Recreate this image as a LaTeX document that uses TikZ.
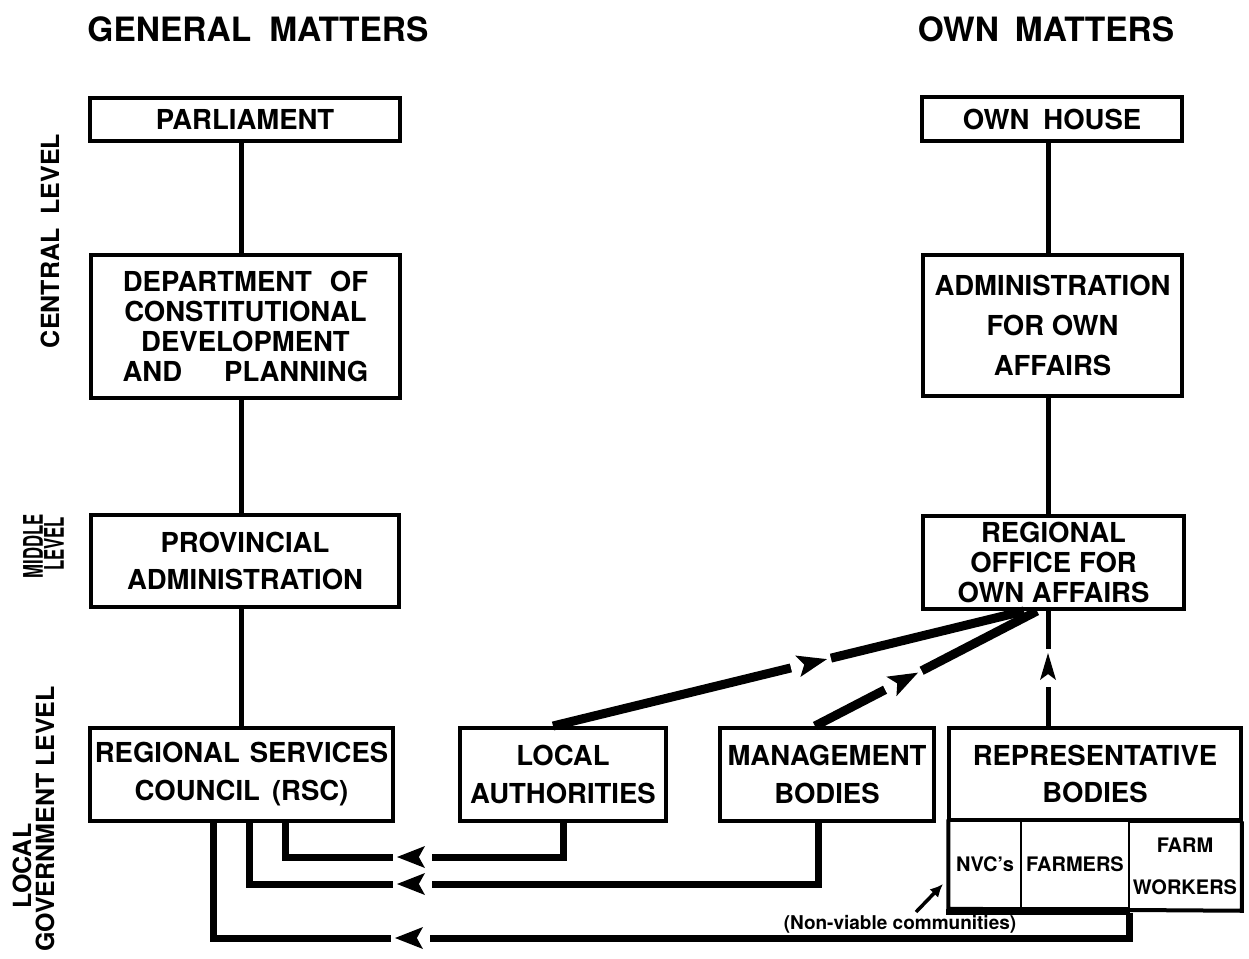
\documentclass[tikz,border=0pt]{standalone}
\usepackage{fontspec}
\setmainfont{TeX Gyre Heros}
\usetikzlibrary{calc,arrows.meta,decorations.markings}

\newcommand\orgBoxFont{\fontsize{27.5}{30}\selectfont\bfseries}
\newcommand\orgCellFont{\fontsize{20}{22}\selectfont\bfseries}
\newcommand\orgHeadFont{\fontsize{33.5}{35}\selectfont\bfseries}
\newcommand\orgSideFont{\fontsize{25}{27}\selectfont\bfseries}
\newcommand\orgMidFont{\fontsize{27}{29}\selectfont\bfseries}
\newcommand\orgNoteFont{\fontsize{19}{21}\selectfont\bfseries}

\tikzset{
  box/.style={draw, line width=4pt, inner sep=0pt, align=center, font=\orgBoxFont},
  cell/.style={draw, line width=1.5pt, inner sep=0pt, align=center, font=\orgCellFont},
  side/.style={inner sep=0pt, font=\orgSideFont, rotate=90},
  spine/.style={line width=5pt},
  feed/.style={line width=7pt},
  diag/.style={line width=9pt},
  % an arrowhead set into a gap of the line, tip at distance #1 from the start
  midhead/.style n args={4}{postaction={decorate},
    decoration={markings, mark=at position #1 with {
      \fill[white] ({-(#2)-7},{-(#4)}) rectangle (4,{#4});
      \fill (0,0) -- ({-(#2)},{#3}) -- ({-0.78*(#2)},0) -- ({-(#2)},{-(#3)}) -- cycle;}}},
}

\begin{document}
\begin{tikzpicture}[x=1pt,y=-1pt]
\fill[white] (0,0) rectangle (1249,958);
\useasboundingbox (0,0) rectangle (1249,958);

% column headings
\node[font=\orgHeadFont] (genhd) at (258,29) {GENERAL\hspace{18pt}MATTERS};
\node[font=\orgHeadFont] (ownhd) at (1046,29) {OWN\hspace{16pt}MATTERS};

% level labels
\node[side] (lvcentral) at (50,241) {CENTRAL\hspace{14pt}LEVEL};
\node[side, font=\orgMidFont] (lvmidA) at (33,546) {\scalebox{0.62}[1]{MIDDLE}};
\node[side, font=\orgMidFont] (lvmidB) at (54,544) {\scalebox{0.62}[1]{LEVEL}};
\node[side] (lvlocA) at (22,866) {LOCAL};
\node[side] (lvlocB) at (45,819) {GOVERNMENT LEVEL};

% general matters column
\node[box, minimum width=310pt, minimum height=43pt] (parl) at (245,119.5) {PARLIAMENT};
\node[box, minimum width=309pt, minimum height=143pt] (dept) at (245.5,326.5)
  {DEPARTMENT\hspace{18pt}OF\\CONSTITUTIONAL\\DEVELOPMENT\\AND\hspace{42pt}PLANNING};
\node[box, minimum width=308pt, minimum height=92pt] (prov) at (245,561)
  {PROVINCIAL\\[7pt]ADMINISTRATION};
\node[box, minimum width=303pt, minimum height=93pt] (rsc) at (241.5,774.5)
  {REGIONAL\hspace{10pt}SERVICES\\[8pt]COUNCIL\hspace{12pt}(RSC)};

% own matters column
\node[box, minimum width=260pt, minimum height=44pt] (house) at (1052,119) {OWN\hspace{14pt}HOUSE};
\node[box, minimum width=259pt, minimum height=141pt] (admin) at (1052.5,325.5)
  {ADMINISTRATION\\[10pt]FOR OWN\\[10pt]AFFAIRS};
\node[box, minimum width=261pt, minimum height=93pt] (regoff) at (1053.5,562.5)
  {REGIONAL\\OFFICE\hspace{8pt}FOR\\OWN AFFAIRS};

% local bodies
\node[box, minimum width=206pt, minimum height=93pt] (la) at (563,774.5) {LOCAL\\[8pt]AUTHORITIES};
\node[box, minimum width=214pt, minimum height=93pt] (mgmt) at (827,774.5) {MANAGEMENT\\[8pt]BODIES};
\node[box, minimum width=292pt, minimum height=92pt] (rep) at (1095,774) {REPRESENTATIVE\\[7pt]BODIES};
\node[cell, minimum width=72pt, minimum height=88pt] (nvc) at (985,864) {NVC's};
\node[cell, minimum width=108pt, minimum height=88pt] (farmers) at (1075,864) {FARMERS};
\node[cell, minimum width=112pt, minimum height=88pt] (workers) at (1185,866) {FARM\\[20pt]WORKERS};
\draw[line width=4pt] (nvc.north west) -- (nvc.south west) -- (workers.south east) -- (workers.north east);
\draw[line width=6pt] ($(nvc.south west)+(-2,3)$) -- ($(farmers.south east)+(0,3)$);

% note on the NVC's
\node[font=\orgNoteFont] (nvnote) at (900,924) {(Non-viable communities)};
\coordinate (nvtail) at (916,912);
\coordinate (nvtip) at (943,884);
\draw[line width=3.5pt, -{Latex[length=13pt,width=12pt]}] (nvtail) -- (nvtip);

% vertical spines
\coordinate (spineL) at (241,0);
\coordinate (spineR) at (1048,0);
\draw[spine] (parl.south -| spineL) -- (dept.north -| spineL);
\draw[spine] (dept.south -| spineL) -- (prov.north -| spineL);
\draw[spine] (prov.south -| spineL) -- (rsc.north -| spineL);
\draw[spine] (house.south -| spineR) -- (admin.north -| spineR);
\draw[spine] (admin.south -| spineR) -- (regoff.north -| spineR);

% links up to the regional office
\coordinate (dA) at ($(la.north)+(-10,0)$);
\coordinate (dB) at ($(mgmt.north)+(-12,0)$);
\coordinate (hubA) at (1024,0);
\coordinate (hubB) at (1037,0);
\draw[diag, midhead={282pt}{30}{11}{7}] (dA) -- (regoff.south -| hubA);
\draw[diag, midhead={116pt}{30}{11}{7}] (dB) -- (regoff.south -| hubB);
\draw[spine, midhead={73pt}{27}{8}{5}] (rep.north -| spineR) -- (regoff.south -| spineR);

% links back to the RSC
\coordinate (rowA) at (0,857);
\coordinate (rowB) at (0,884);
\coordinate (rowC) at (0,938);
\coordinate (colA) at (285,0);
\coordinate (colB) at (249,0);
\coordinate (colC) at (213,0);
\coordinate (dropB) at (818,0);
\draw[feed, midhead={200pt}{28}{11}{5}]
  (la.south) -- (la.south |- rowA) -- (colA |- rowA) -- (colA |- rsc.south);
\draw[feed, midhead={482pt}{28}{11}{5}]
  (mgmt.south -| dropB) -- (dropB |- rowB) -- (colB |- rowB) -- (colB |- rsc.south);
\draw[feed, midhead={760pt}{28}{11}{5}]
  ($(farmers.south east)+(0,4)$) -- (farmers.south east |- rowC) -- (colC |- rowC) -- (colC |- rsc.south);
\end{tikzpicture}
\end{document}
